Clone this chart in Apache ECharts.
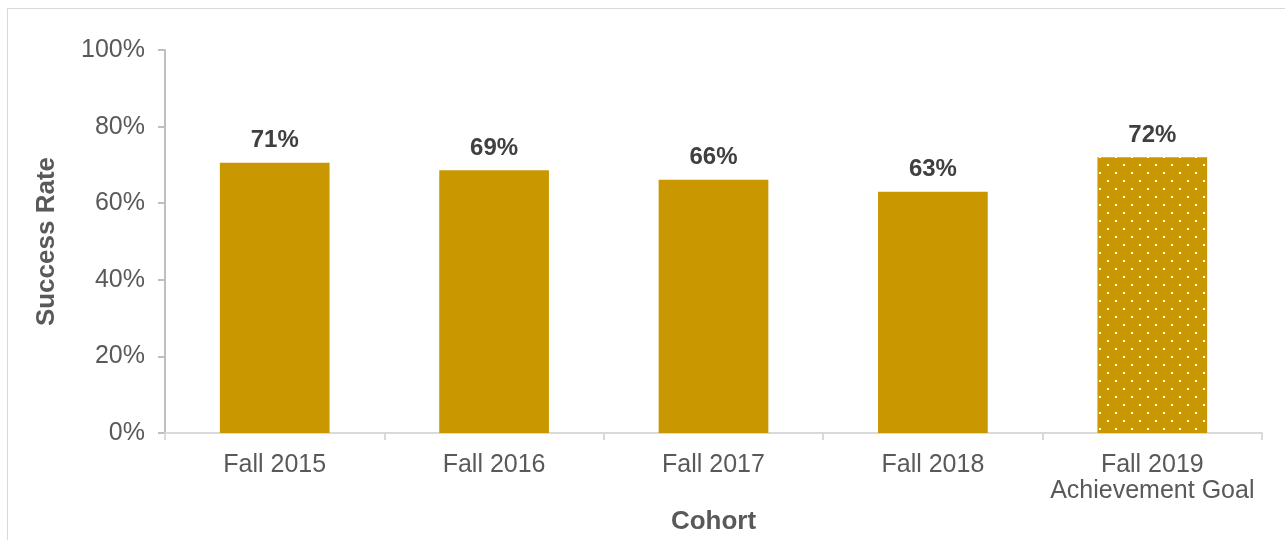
<!DOCTYPE html>
<html>
<head>
<meta charset="utf-8">
<style>
html,body{margin:0;padding:0;background:#fff;}
#chart{width:1285px;height:540px;}
</style>
<script src="https://cdn.jsdelivr.net/npm/echarts@6/dist/echarts.min.js"></script>
</head>
<body>
<div id="chart"></div>
<script>
const categories = ['Fall 2015', 'Fall 2016', 'Fall 2017', 'Fall 2018', 'Fall 2019\nAchievement Goal'];
const successRates = [70.6, 68.6, 66.1, 63.0, 72.0];
const yTicks = [0, 20, 40, 60, 80, 100];

const gold = '#C99700';
const pc = document.createElement('canvas');
pc.width = 16; pc.height = 16;
const ctx = pc.getContext('2d');
ctx.fillStyle = gold; ctx.fillRect(0, 0, 16, 16);
ctx.fillStyle = '#ffffff';
ctx.fillRect(3, 4, 2, 2);
ctx.fillRect(11, 12, 2, 2);

const data = successRates.map((v, i) => ({
  value: v,
  itemStyle: { color: i === successRates.length - 1 ? { image: pc, repeat: 'repeat' } : gold }
}));

const chart = echarts.init(document.getElementById('chart'), null, { renderer: 'canvas' });
const font = '"Liberation Sans", Arial, sans-serif';
chart.setOption({
  animation: false,
  textStyle: { fontFamily: font },
  graphic: [{
    type: 'rect', silent: true,
    shape: { x: 7.5, y: 8.5, width: 1400, height: 700 },
    style: { fill: 'none', stroke: '#d9d9d9', lineWidth: 1 }
  }],
  grid: { left: 165, right: 23, top: 50, bottom: 106, containLabel: false },
  xAxis: {
    type: 'category',
    data: categories,
    name: 'Cohort',
    nameLocation: 'middle',
    nameGap: 69,
    nameTextStyle: { fontSize: 26, fontWeight: 'bold', color: '#595959', fontFamily: font },
    axisLine: { lineStyle: { color: '#d9d9d9', width: 2 } },
    axisTick: { show: true, interval: 0, length: 7, lineStyle: { color: '#d9d9d9', width: 2 } },
    axisLabel: { interval: 0, fontSize: 25, color: '#595959', margin: 19, lineHeight: 26, fontFamily: font }
  },
  yAxis: {
    type: 'value',
    min: yTicks[0], max: yTicks[yTicks.length - 1], interval: 20,
    name: 'Success Rate',
    nameLocation: 'middle',
    nameGap: 105,
    nameTextStyle: { fontSize: 26, fontWeight: 'bold', color: '#595959', fontFamily: font },
    axisLine: { show: true, lineStyle: { color: '#bfbfbf', width: 2 } },
    axisTick: { show: true, length: 7, lineStyle: { color: '#bfbfbf', width: 2 } },
    splitLine: { show: false },
    axisLabel: { fontSize: 25, color: '#595959', margin: 20, formatter: v => v + '%', fontFamily: font }
  },
  series: [{
    type: 'bar',
    data: data,
    barWidth: '50%',
    label: {
      show: true, position: 'top', distance: 10,
      fontSize: 24, fontWeight: 'bold', color: '#404040', fontFamily: font,
      formatter: p => Math.round(p.value) + '%'
    }
  }]
});
</script>
</body>
</html>
